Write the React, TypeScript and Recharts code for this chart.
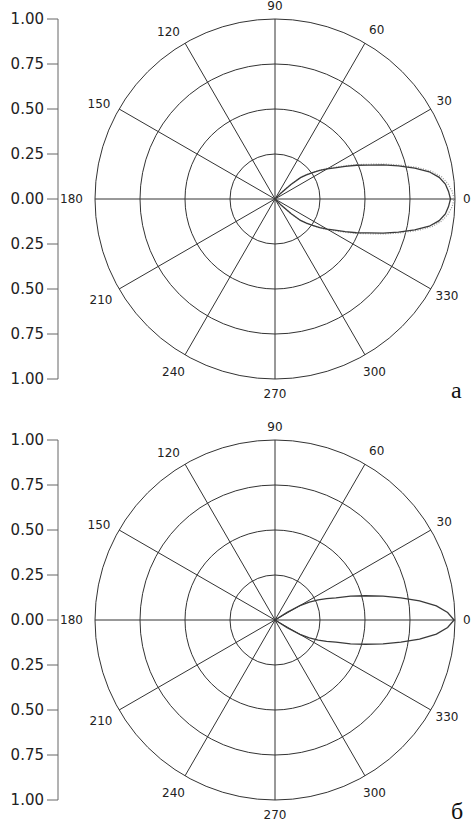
import {
  RadarChart,
  Radar,
  PolarGrid,
  PolarAngleAxis,
  PolarRadiusAxis,
  LineChart,
  Line,
  YAxis,
} from "recharts";

// angles in degrees, 0 = right, counter-clockwise
const angles = [
  312.5, 315, 317.5, 320, 322.5, 325, 327.5, 330, 332.5, 335, 337.5, 340, 342.5, 345, 347.5, 350, 352.5, 355, 357.5,
  0, 2.5, 5, 7.5, 10, 12.5, 15, 17.5, 20, 22.5, 25, 27.5, 30, 32.5, 35, 37.5, 40, 42.5, 45, 47.5,
];

// panel "а": solid lobe and the dotted one just outside it
const lobeA = [
  0, 0.05, 0.12, 0.185, 0.22, 0.255, 0.295, 0.335, 0.375, 0.43, 0.49, 0.55, 0.63, 0.71, 0.795, 0.87, 0.92, 0.95, 0.965,
  0.975, 0.965, 0.95, 0.92, 0.87, 0.795, 0.71, 0.63, 0.55, 0.49, 0.43, 0.375, 0.335, 0.295, 0.255, 0.22, 0.185, 0.12, 0.05, 0,
];
const lobeAOuter = [
  0, 0.055, 0.125, 0.19, 0.225, 0.26, 0.3, 0.345, 0.385, 0.44, 0.5, 0.565, 0.645, 0.725, 0.81, 0.885, 0.935, 0.965, 0.985,
  0.995, 0.985, 0.965, 0.935, 0.885, 0.81, 0.725, 0.645, 0.565, 0.5, 0.44, 0.385, 0.345, 0.3, 0.26, 0.225, 0.19, 0.125, 0.055, 0,
];

// panel "б"
const lobeB = [
  0, 0, 0, 0, 0, 0, 0.08, 0.16, 0.215, 0.265, 0.31, 0.36, 0.44, 0.52, 0.615, 0.71, 0.81, 0.9, 0.96,
  0.995, 0.96, 0.9, 0.81, 0.71, 0.615, 0.52, 0.44, 0.36, 0.31, 0.265, 0.215, 0.16, 0.08, 0, 0, 0, 0, 0, 0,
];

const angleTicks = [0, 30, 60, 90, 120, 150, 180, 210, 240, 270, 300, 330];
const radiusTicks = [0.25, 0.5, 0.75, 1];
const sideTicks = [1, 0.75, 0.5, 0.25, 0, -0.25, -0.5, -0.75, -1];

// small label nudges so the angle labels sit like the original
const nudge: Record<number, [number, number]> = {
  0: [-2, 0],
  30: [-3, -3],
  60: [-1, -4],
  90: [0, -3],
  120: [0, -2],
  150: [0, 0],
  180: [-2, 0],
  210: [2, 6],
  240: [5, 8],
  270: [0, 5],
  300: [-7, 8],
  330: [-4, 2],
};

const FONT = "'DejaVu Sans', sans-serif";

function AngleTick(props: any) {
  const { x, y, payload, textAnchor } = props;
  const [dx, dy] = nudge[payload.value] ?? [0, 0];
  return (
    <text
      x={x + dx}
      y={y + dy}
      textAnchor={textAnchor}
      dominantBaseline="central"
      fontSize={12}
      fontFamily={FONT}
      fill="#222"
    >
      {payload.value}
    </text>
  );
}

type Series = { key: string; stroke: string; width: number; dash?: string };

function Panel({ top, rows, series, caption }: { top: number; rows: any[]; series: Series[]; caption: string }) {
  const sideRows = sideTicks.map((v) => ({ v }));
  return (
    <div style={{ position: "absolute", left: 0, top, width: 472, height: 414 }}>
      <RadarChart
        width={472}
        height={414}
        data={rows}
        cx={275}
        cy={199}
        outerRadius={180}
        startAngle={0}
        endAngle={360}
        style={{ position: "absolute", left: 0, top: 0 }}
      >
        <PolarGrid gridType="circle" stroke="#333" strokeWidth={1} />
        <PolarAngleAxis
          dataKey="angle"
          type="number"
          domain={[0, 360]}
          ticks={angleTicks}
          tick={<AngleTick />}
          tickSize={10}
          tickLine={false}
          axisLine={false}
        />
        <PolarRadiusAxis
          type="number"
          domain={[0, 1]}
          ticks={radiusTicks}
          allowDataOverflow
          tick={false}
          axisLine={false}
        />
        {series.map((s) => (
          <Radar
            key={s.key}
            dataKey={s.key}
            stroke={s.stroke}
            strokeWidth={s.width}
            strokeDasharray={s.dash}
            fill="none"
            dot={false}
            isAnimationActive={false}
          />
        ))}
      </RadarChart>
      <div style={{ position: "absolute", left: 0, top: 0 }}>
        <LineChart width={70} height={414} data={sideRows} margin={{ top: 19, bottom: 35, left: 0, right: 0 }}>
          <YAxis
            type="number"
            dataKey="v"
            domain={[-1, 1]}
            ticks={sideTicks}
            interval={0}
            width={58}
            tickSize={11}
            tickMargin={3}
            stroke="#666"
            tick={{ fontSize: 15, fontFamily: FONT, fill: "#222" }}
            tickFormatter={(v: number) => Math.abs(v).toFixed(2)}
          />
          <Line dataKey="v" stroke="none" dot={false} isAnimationActive={false} />
        </LineChart>
      </div>
      <div
        style={{
          position: "absolute",
          left: 451,
          top: 377,
          fontFamily: "'Liberation Serif', serif",
          fontSize: 24,
          color: "#111",
        }}
      >
        {caption}
      </div>
    </div>
  );
}

export default function App() {
  const rowsA = angles.map((angle, i) => ({ angle, a: lobeA[i], aOuter: lobeAOuter[i] }));
  const rowsB = angles.map((angle, i) => ({ angle, b: lobeB[i] }));
  return (
    <div style={{ position: "absolute", left: 0, top: 0, width: 472, height: 829, background: "#fff" }}>
      <Panel
        top={0}
        rows={rowsA}
        caption="а"
        series={[
          { key: "aOuter", stroke: "#999", width: 1.2, dash: "1 1.5" },
          { key: "a", stroke: "#3a3a3a", width: 1.3 },
        ]}
      />
      <Panel top={421} rows={rowsB} caption="б" series={[{ key: "b", stroke: "#3a3a3a", width: 1.3 }]} />
    </div>
  );
}
